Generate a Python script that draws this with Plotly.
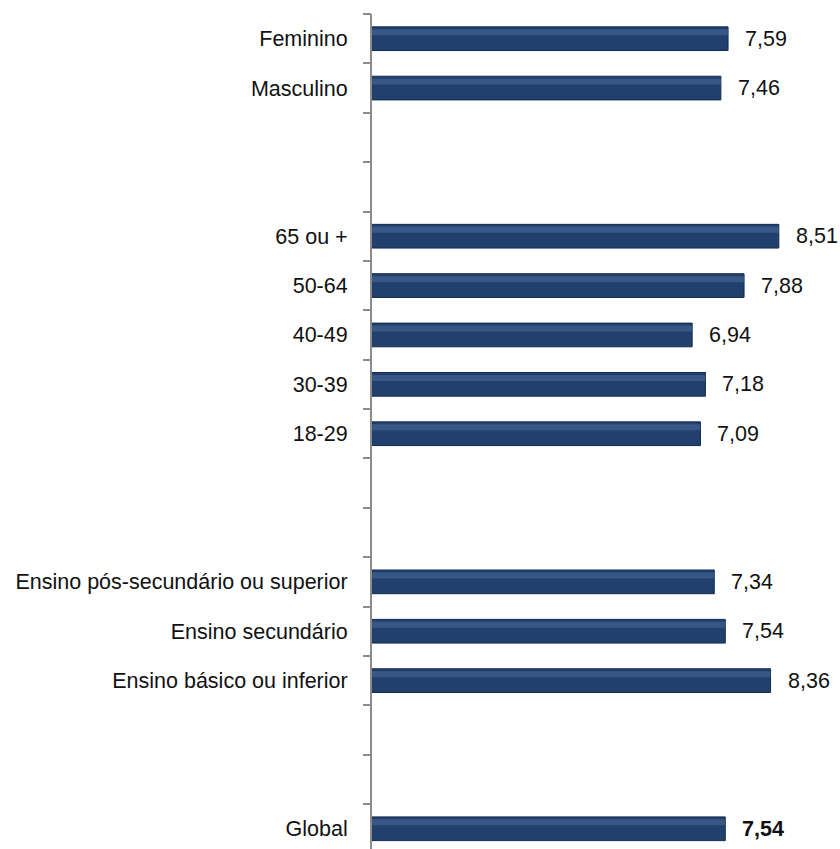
import plotly.graph_objects as go

categories = ["Feminino", "Masculino", "", "", "65 ou +", "50-64", "40-49", "30-39", "18-29",
              "", "", "Ensino pós-secundário ou superior", "Ensino secundário",
              "Ensino básico ou inferior", "", "", "Global"]
values = [7.59, 7.46, None, None, 8.51, 7.88, 6.94, 7.18, 7.09,
          None, None, 7.34, 7.54, 8.36, None, None, 7.54]
value_labels = ["7,59", "7,46", "", "", "8,51", "7,88", "6,94", "7,18", "7,09",
                "", "", "7,34", "7,54", "8,36", "", "", "<b>7,54</b>"]

FONT = "Liberation Sans, Arial, sans-serif"
FS = 21.5
pos = list(range(len(categories)))
bx = [v for v in values if v is not None]
by = [p for p, v in zip(pos, values) if v is not None]

fig = go.Figure()
# main bar
fig.add_trace(go.Bar(x=bx, y=by, orientation="h", width=0.48, base=0,
                     marker=dict(color="#21406d", line=dict(color="#142a4a", width=1)),
                     hoverinfo="skip", showlegend=False))
# highlight band
fig.add_trace(go.Bar(x=bx, y=by, orientation="h", width=0.12, offset=-0.19, base=0,
                     marker=dict(color="#4a6c9b", opacity=0.55, line=dict(width=0)),
                     hoverinfo="skip", showlegend=False))
fig.update_layout(barmode="overlay")

for p, v, t in zip(pos, values, value_labels):
    if v is None:
        continue
    fig.add_annotation(x=v, y=p, text=t, showarrow=False, xanchor="left", xshift=15,
                       font=dict(family=FONT, size=FS, color="#111111"))

yr = [16.41, -0.5]
fig.update_layout(
    width=840, height=849,
    margin=dict(l=372, r=0, t=14, b=0, autoexpand=False),
    paper_bgcolor="white", plot_bgcolor="white",
    font=dict(family=FONT, size=FS, color="#111111"),
    xaxis=dict(range=[1.14, 9.618], showgrid=False, zeroline=False, showline=False,
               showticklabels=False, ticks="", automargin=False),
    yaxis=dict(range=yr, tickmode="array", tickvals=[p for p, c in zip(pos, categories) if c],
               ticktext=[c for c in categories if c], ticks="", showgrid=False,
               zeroline=False, showline=True, linecolor="#8c8c8c", linewidth=2,
               ticklabelstandoff=18, automargin=False),
    yaxis2=dict(range=yr, overlaying="y", tickmode="array",
                tickvals=[p - 0.5 for p in pos], ticks="outside", ticklen=8,
                tickcolor="#8c8c8c", tickwidth=2, showticklabels=False, showgrid=False,
                zeroline=False, showline=False, automargin=False),
)
fig.add_trace(go.Scatter(x=[None], y=[None], yaxis="y2", showlegend=False))
fig.write_html("out.html")
